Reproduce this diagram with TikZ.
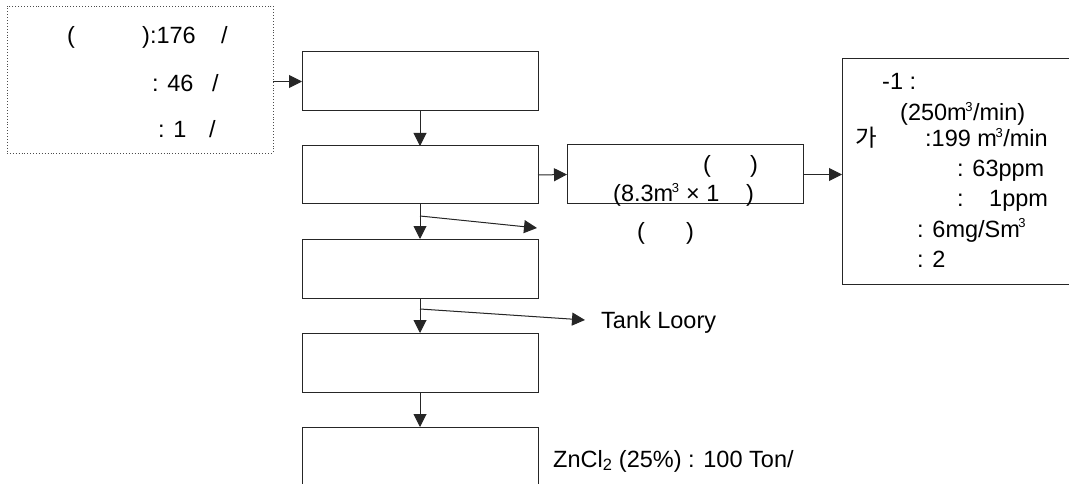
\documentclass[tikz,border=0pt]{standalone}
\usepackage{fontspec}
\setmainfont{Liberation Sans}
\newfontfamily\cjk{Noto Sans CJK KR}
\usetikzlibrary{arrows.meta}
\newcommand{\cub}{\kern-1.5pt\textsuperscript{\fontsize{13}{13}\selectfont 3}}
\begin{document}
\begin{tikzpicture}[x=1pt,y=-1pt,
  box/.style={draw=black!85, line width=1pt, inner sep=0pt, outer sep=0pt},
  dotbox/.style={draw=black!70, line width=0.9pt, dotted, inner sep=0pt, outer sep=0pt},
  arr/.style={draw=black!85, line width=1pt, -{Triangle[length=13pt,width=13pt]}},
  txt/.style={anchor=base west, inner sep=0pt, font=\fontsize{23.5}{28}\selectfont}]
\useasboundingbox (0,0) rectangle (1069,484);
% boxes
\node[dotbox, minimum width=266pt, minimum height=147pt] (lb) at (140,79.5) {};
\node[box, minimum width=236pt, minimum height=59pt] (b1) at (420,81.5) {};
\node[box, minimum width=236pt, minimum height=58pt] (b2) at (420,175) {};
\node[box, minimum width=236pt, minimum height=59pt] (b3) at (420,268.5) {};
\node[box, minimum width=236pt, minimum height=59pt] (b4) at (420,362.5) {};
\node[box, minimum width=236pt, minimum height=63pt] (b5) at (420,458.5) {};
\node[box, minimum width=236pt, minimum height=59pt] (mid) at (685,174.5) {};
\node[box, minimum width=233pt, minimum height=225pt] (rb) at (958.5,171.5) {};
% connectors
\draw[arr] (lb.east |- b1.west) -- (b1.west);
\draw[arr] (b1.south) -- (b2.north);
\draw[arr] (b2.south) -- (b3.north);
\draw[arr] (b3.south) -- (b4.north);
\draw[arr] (b4.south) -- (b5.north);
\draw[arr] (b2.east) -- (mid.west);
\draw[arr] (mid.east) -- (mid.east -| rb.west);
\coordinate (j1) at (420,216);
\coordinate (e1) at (537,228);
\draw[arr] (j1) -- (e1);
\coordinate (j2) at (420,309);
\coordinate (e2) at (585,320);
\draw[arr] (j2) -- (e2);
% left box texts
\node[txt] (l1a) at (67,44) {(};
\node[txt] (l1b) at (142,44) {):176};
\node[txt] (l1c) at (221,44) {/};
\node[txt] (l2a) at (152,92) {: 46};
\node[txt] (l2b) at (212,92) {/};
\node[txt] (l3a) at (158,138) {: 1};
\node[txt] (l3b) at (209,138) {/};
% middle box texts
\node[txt] (m1a) at (703,173) {(};
\node[txt] (m1b) at (750,173) {)};
\node[txt] (m2a) at (613,202) {(8.3m\cub{} × 1};
\node[txt] (m2b) at (746,202) {)};
\node[txt] (m3a) at (637,240) {(};
\node[txt] (m3b) at (686,240) {)};
% right box texts
\node[txt] (r1) at (882,90) {-1 :};
\node[txt] (r2) at (900,121) {(250m\cub/min)};
\node[txt] (r3a) at (855,147) {\cjk 가};
\node[txt] (r3b) at (925,147) {:199 m\cub/min};
\node[txt] (r4) at (957,177) {: 63ppm};
\node[txt] (r5a) at (957,207) {:};
\node[txt] (r5b) at (989,207) {1ppm};
\node[txt] (r6) at (917,237) {: 6mg/Sm\cub};
\node[txt] (r7) at (917,267) {: 2};
% other labels
\node[txt] (tank) at (601,328) {Tank Loory};
\node[txt] (zn) at (553,467) {ZnCl\textsubscript{2} (25\%) : 100 Ton/};
\end{tikzpicture}
\end{document}
